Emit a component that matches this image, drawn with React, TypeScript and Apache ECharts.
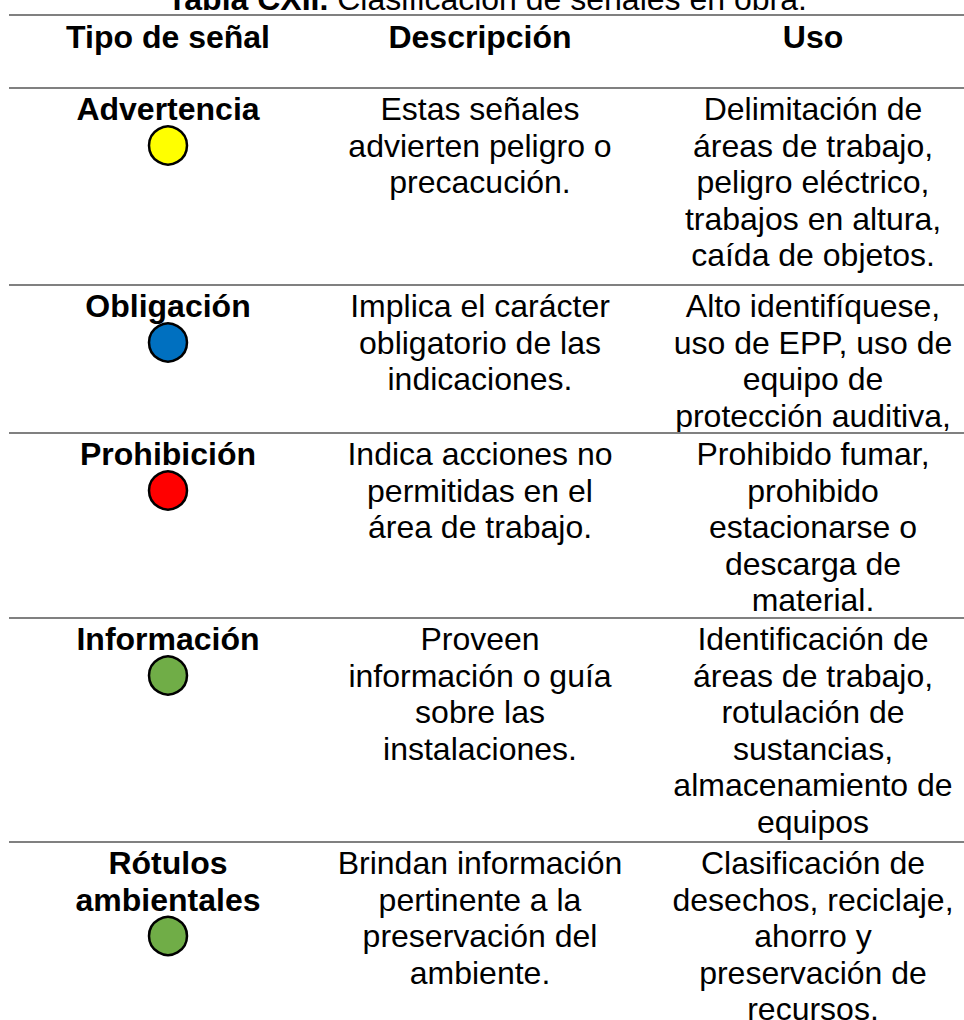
import React, { useEffect, useRef } from "react";
import * as echarts from "echarts";

// ---- data ----
const TITLE_BOLD = "Tabla CXII.";
const TITLE_REST = " Clasificación de señales en obra.";
const HEADERS = ["Tipo de señal", "Descripción", "Uso"];

const TIPOS: string[][] = [
  ["Advertencia"],
  ["Obligación"],
  ["Prohibición"],
  ["Información"],
  ["Rótulos", "ambientales"],
];
const COLORES = ["#FFFF00", "#0070C0", "#FF0000", "#70AD47", "#70AD47"];

const DESCRIPCIONES: string[][] = [
  ["Estas señales", "advierten peligro o", "precacución."],
  ["Implica el carácter", "obligatorio de las", "indicaciones."],
  ["Indica acciones no", "permitidas en el", "área de trabajo."],
  ["Proveen", "información o guía", "sobre las", "instalaciones."],
  ["Brindan información", "pertinente a la", "preservación del", "ambiente."],
];

const USOS: string[][] = [
  ["Delimitación de", "áreas de trabajo,", "peligro eléctrico,", "trabajos en altura,", "caída de objetos."],
  ["Alto identifíquese,", "uso de EPP, uso de", "equipo de", "protección auditiva,"],
  ["Prohibido fumar,", "prohibido", "estacionarse o", "descarga de", "material."],
  ["Identificación de", "áreas de trabajo,", "rotulación de", "sustancias,", "almacenamiento de", "equipos"],
  ["Clasificación de", "desechos, reciclaje,", "ahorro y", "preservación de", "recursos."],
];

// ---- layout ----
const W = 964;
const H = 1020;
const FONT = '"Liberation Sans", Arial, sans-serif';
const FS = 32;
const LINE_H = 36.5;
const COL_X = [168, 480, 813];
const TITLE_X = 487;
const TITLE_Y = -1;
const TOP_LINE_Y = 15;
const HEADER_Y = 37;
const HEADER_BOTTOM_Y = 88;
const ROW_TOPS = [88, 285, 433, 618, 842];
const FIRST_LINE_OFFSET = 21;
const LINE_X0 = 9;
const LINE_X1 = 964;
const CIRCLE_R = 19;

function textEl(text: string, x: number, y: number, bold: boolean, size = FS) {
  return {
    type: "text",
    x,
    y,
    silent: true,
    style: {
      text,
      font: `${bold ? "bold " : ""}${size}px ${FONT}`,
      fill: "#000",
      align: "center",
      verticalAlign: "middle",
      textAlign: "center",
      textVerticalAlign: "middle",
    },
  };
}

function hLine(y: number) {
  return {
    type: "line",
    silent: true,
    shape: { x1: LINE_X0, y1: y, x2: LINE_X1, y2: y },
    style: { stroke: "#808080", lineWidth: 2 },
  };
}

export default function App() {
  const ref = useRef<HTMLDivElement>(null);

  useEffect(() => {
    document.body.style.margin = "0";
    if (!ref.current) return;
    const chart = echarts.init(ref.current, undefined, { renderer: "svg" });

    const elements: any[] = [];

    // title
    elements.push({
      type: "text",
      x: TITLE_X,
      y: TITLE_Y,
      silent: true,
      style: {
        text: `{b|${TITLE_BOLD}}${TITLE_REST}`,
        font: `${FS}px ${FONT}`,
        fill: "#000",
        align: "center",
        verticalAlign: "middle",
        textAlign: "center",
        textVerticalAlign: "middle",
        rich: {
          b: { font: `bold ${FS}px ${FONT}`, fill: "#000" },
        },
      },
    });

    elements.push(hLine(TOP_LINE_Y));
    HEADERS.forEach((h, i) => elements.push(textEl(h, COL_X[i], HEADER_Y, true)));
    elements.push(hLine(HEADER_BOTTOM_Y));

    TIPOS.forEach((tipo, r) => {
      const top = ROW_TOPS[r];
      const y0 = top + FIRST_LINE_OFFSET;
      if (r > 0) elements.push(hLine(top));
      tipo.forEach((t, i) => elements.push(textEl(t, COL_X[0], y0 + i * LINE_H, true)));
      elements.push({
        type: "circle",
        silent: true,
        shape: { cx: COL_X[0], cy: y0 + tipo.length * LINE_H, r: CIRCLE_R },
        style: { fill: COLORES[r], stroke: "#000", lineWidth: 2.5 },
      });
      DESCRIPCIONES[r].forEach((t, i) => elements.push(textEl(t, COL_X[1], y0 + i * LINE_H, false)));
      USOS[r].forEach((t, i) => elements.push(textEl(t, COL_X[2], y0 + i * LINE_H, false)));
    });

    chart.setOption({
      animation: false,
      backgroundColor: "#fff",
      graphic: { elements },
    });

    return () => chart.dispose();
  }, []);

  return <div ref={ref} style={{ width: W, height: H }} />;
}
